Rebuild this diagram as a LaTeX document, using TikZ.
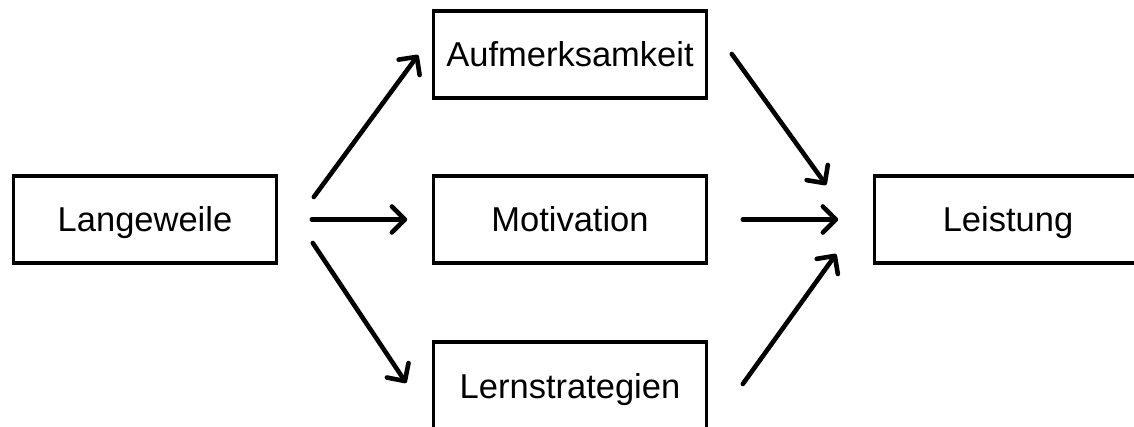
\documentclass[tikz,border=0pt]{standalone}
\usepackage{fontspec}
\setmainfont{Liberation Sans}
\usetikzlibrary{arrows.meta}
\begin{document}
\begin{tikzpicture}[x=1pt,y=-1pt,
  box/.style={draw=black, line width=3.6pt, minimum width=273pt, minimum height=87.5pt,
    inner sep=0pt, text height=24pt, text depth=0pt,
    font=\fontsize{34.5}{40}\selectfont},
  arr/.style={line width=4.6pt, line cap=round,
    -{Straight Barb[length=13pt, width=26pt, line width=4.6pt, round]}}]
\clip (0,0) rectangle (1134,427);
\node[box, minimum width=263pt] (L) at (145,219.5) {Langeweile};
\node[box] (A) at (570,54.5) {Aufmerksamkeit};
\node[box] (M) at (570,219.5) {Motivation};
\node[box] (S) at (570,386) {Lernstrategien};
\node[box, minimum width=267pt] (P) at (1008,219.5) {Leistung};
\draw[arr] ([shift={(35.5,-22.5)}]L.east) -- ([shift={(-13.5,0.5)}]A.west);
\draw[arr] ([shift={(33.5,0)}]L.east) -- ([shift={(-24.5,0)}]M.west);
\draw[arr] ([shift={(34.5,23.5)}]L.east) -- ([shift={(-25.5,-3)}]S.west);
\draw[arr] ([shift={(23.5,-0.5)}]A.east) -- ([shift={(-46.5,-34.5)}]P.west);
\draw[arr] ([shift={(34.5,0)}]M.east) -- ([shift={(-34.5,0)}]P.west);
\draw[arr] ([shift={(34.5,-2)}]S.east) -- ([shift={(-36.5,34.5)}]P.west);
\end{tikzpicture}
\end{document}
